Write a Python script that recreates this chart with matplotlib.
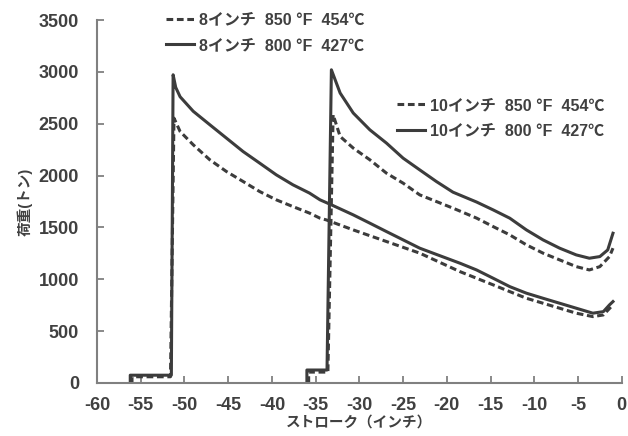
import matplotlib
matplotlib.use('Agg')
import matplotlib.pyplot as plt
from matplotlib.lines import Line2D

plt.rcParams['font.family'] = ['Liberation Sans', 'Noto Sans CJK JP', 'DejaVu Sans']
plt.rcParams['font.weight'] = 'bold'
plt.rcParams['axes.unicode_minus'] = False

# 8インチ 800 °F (solid)
x8_solid = [-56.2, -56.2, -51.5, -51.3, -51.0, -50.5, -49.0, -47.1, -45.2, -43.3, -41.4, -39.5, -37.6,
            -35.7, -34.5, -33.2, -30.7, -28.8, -26.9, -25.0, -23.1, -21.2, -18.5, -16.6, -14.7,
            -12.8, -10.9, -9.0, -7.1, -5.2, -3.3, -2.1, -1.4, -1.0]
y8_solid = [0, 75, 75, 2972, 2850, 2760, 2620, 2490, 2361, 2232, 2120, 2007, 1911,
            1831, 1766, 1718, 1621, 1541, 1460, 1380, 1300, 1240, 1155, 1090, 1010,
            929, 866, 817, 769, 721, 673, 688, 753, 785]

# 8インチ 850 °F (dashed)
x8_dash = [-56.0, -56.0, -51.6, -51.2, -50.5, -49.0, -47.1, -45.2, -43.3, -41.4, -39.5, -37.6,
           -35.7, -34.5, -33.8, -30.7, -26.9, -23.1, -18.5, -16.6, -14.7, -12.8, -10.9, -9.0,
           -7.1, -5.2, -3.3, -2.1, -1.2]
y8_dash = [0, 60, 60, 2554, 2425, 2297, 2152, 2039, 1943, 1846, 1766, 1701,
           1638, 1589, 1573, 1476, 1364, 1252, 1074, 1010, 946, 881, 817, 769,
           721, 673, 640, 656, 736]

# 10インチ 800 °F (solid)
x10_solid = [-36.0, -36.0, -33.7, -33.2, -32.2, -30.7, -28.8, -26.9, -25.0, -23.1, -21.2, -19.3,
             -16.6, -14.7, -12.8, -10.9, -9.0, -7.1, -5.2, -3.7, -2.5, -1.6, -1.0]
y10_solid = [0, 125, 125, 3020, 2796, 2603, 2441, 2313, 2168, 2055, 1943, 1840,
             1745, 1669, 1589, 1476, 1380, 1300, 1235, 1203, 1219, 1283, 1444]

# 10インチ 850 °F (dashed)
x10_dash = [-35.8, -35.8, -33.6, -33.0, -32.2, -30.7, -28.8, -26.9, -25.0, -23.1, -21.2, -19.3,
            -16.6, -14.7, -12.8, -10.9, -9.0, -7.1, -5.2, -3.7, -2.5, -1.4, -1.0]
y10_dash = [0, 105, 105, 2586, 2377, 2265, 2152, 2023, 1927, 1814, 1750, 1686,
            1590, 1508, 1428, 1332, 1252, 1187, 1122, 1090, 1122, 1219, 1300]

labels8 = ['8インチ  850 °F  454℃', '8インチ  800 °F  427℃']
labels10 = ['10インチ  850 °F  454℃', '10インチ  800 °F  427℃']

line_color = '#3c3c3c'
text_color = '#404040'
lw = 2.2
dash = (2.2, 1.2)

fig = plt.figure(figsize=(6.28, 4.36), dpi=100)
ax = fig.add_axes([0.1545, 0.1216, 0.8355, 0.8325])

ax.plot(x8_dash, y8_dash, color=line_color, lw=lw, dashes=dash)
ax.plot(x8_solid, y8_solid, color=line_color, lw=lw)
ax.plot(x10_dash, y10_dash, color=line_color, lw=lw, dashes=dash)
ax.plot(x10_solid, y10_solid, color=line_color, lw=lw)

ax.set_xlim(-60, 0)
ax.set_ylim(0, 3500)
ax.set_xticks(range(-60, 1, 5))
ax.set_yticks(range(0, 3501, 500))

for s in ['top', 'right']:
    ax.spines[s].set_visible(False)
for s in ['left', 'bottom']:
    ax.spines[s].set_color('#808080')
    ax.spines[s].set_linewidth(1.5)

ax.tick_params(direction='in', length=5, width=1.3, color='#808080',
               labelsize=13, labelcolor=text_color)
ax.tick_params(axis='x', pad=10)
ax.tick_params(axis='y', pad=13)
for lab in ax.get_xticklabels() + ax.get_yticklabels():
    lab.set_fontweight('bold')

ax.set_xlabel('ストローク（インチ）', fontsize=10.5, fontweight='bold', color=text_color, labelpad=1)
ax.set_ylabel('荷重(トン)', fontsize=10.5, fontweight='bold', color=text_color, labelpad=4)

def handles():
    return [Line2D([], [], color=line_color, lw=lw, dashes=dash),
            Line2D([], [], color=line_color, lw=lw)]

leg1 = ax.legend(handles(), labels8, loc='upper left', bbox_to_anchor=(0.105, 1.06),
                 frameon=False, handlelength=1.7, handletextpad=0.35,
                 labelspacing=0.65, labelcolor=text_color, prop={'weight': 'bold', 'size': 11.5})
ax.add_artist(leg1)
ax.legend(handles(), labels10, loc='upper left', bbox_to_anchor=(0.545, 0.825),
          frameon=False, handlelength=1.7, handletextpad=0.35,
          labelspacing=0.65, labelcolor=text_color, prop={'weight': 'bold', 'size': 11.5})

fig.savefig('out.png', dpi=100)
